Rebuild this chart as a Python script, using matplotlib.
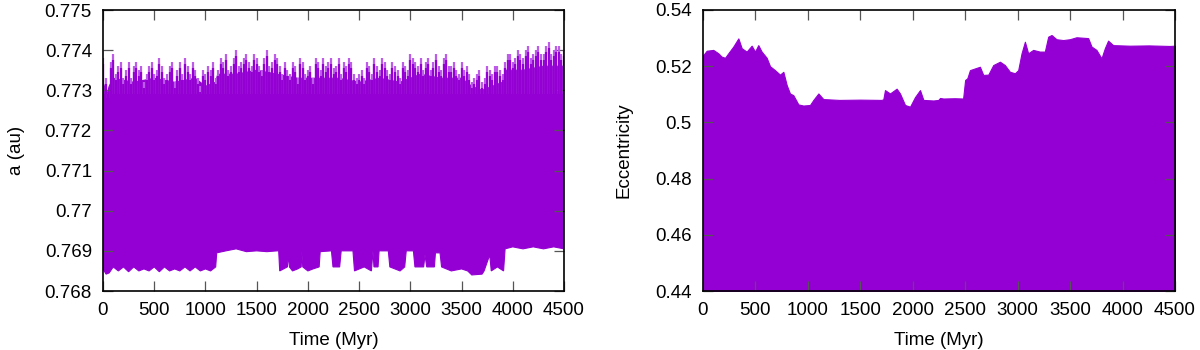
import numpy as np
import matplotlib
matplotlib.use("Agg")
import matplotlib.pyplot as plt

plt.rcParams['font.family'] = ['Liberation Sans', 'DejaVu Sans']

# ---------------- data ----------------
# semi-major axis: spike tops of the upper edge, every 50 Myr
a_upper_time = list(range(0, 4501, 50))
a_upper = [0.7738, 0.7728, 0.7739, 0.7736, 0.7733, 0.7737, 0.7736, 0.7735, 0.7732, 0.7736,
           0.7734, 0.7738, 0.7733, 0.7736, 0.7732, 0.7737, 0.7738, 0.7734, 0.7735, 0.7731,
           0.7734, 0.7735, 0.7733, 0.7738, 0.7739, 0.7736, 0.7740, 0.7737, 0.7739, 0.7736,
           0.7738, 0.7735, 0.7740, 0.7737, 0.7738, 0.7734, 0.7735, 0.7737, 0.7733, 0.7737,
           0.7735, 0.7733, 0.7737, 0.7738, 0.7737, 0.77355, 0.7738, 0.7737, 0.7738, 0.7734,
           0.7734, 0.7733, 0.7736, 0.7738, 0.7735, 0.7737, 0.7734, 0.7736, 0.7733, 0.7736,
           0.7739, 0.7737, 0.7738, 0.7737, 0.7735, 0.7739, 0.7735, 0.7739, 0.7736, 0.7735,
           0.7737, 0.7736, 0.7732, 0.7734, 0.7732, 0.7736, 0.7734, 0.7736, 0.7734, 0.7739,
           0.7737, 0.7740, 0.7738, 0.7741, 0.7739, 0.7741, 0.7739, 0.7742, 0.7740, 0.7741,
           0.7740]
# extra spike tops between the 50-Myr samples
a_mid_time = list(range(25, 4500, 50))
a_mid = [0.7733, 0.7737, 0.7734, 0.7737, 0.7735, 0.7733, 0.7737, 0.7736, 0.7734, 0.7737,
         0.7735, 0.7736, 0.7734, 0.7737, 0.7735, 0.7734, 0.7736, 0.7737, 0.7733, 0.7735,
         0.7736, 0.7737, 0.7735, 0.7737, 0.7735, 0.7738, 0.7736, 0.7738, 0.7737, 0.7739,
         0.7736, 0.7738, 0.7736, 0.7739, 0.7736, 0.7737, 0.7734, 0.7736, 0.7738, 0.7734,
         0.7736, 0.7738, 0.7735, 0.7736, 0.7738, 0.7736, 0.7734, 0.7736, 0.7737, 0.7733,
         0.7735, 0.7737, 0.7734, 0.7736, 0.7738, 0.7735, 0.7737, 0.7735, 0.7737, 0.7735,
         0.7738, 0.7736, 0.7735, 0.7738, 0.7737, 0.7736, 0.7738, 0.7736, 0.7737, 0.7734,
         0.7735, 0.7734, 0.7733, 0.7735, 0.7733, 0.7735, 0.7736, 0.7735, 0.7737, 0.7739,
         0.7738, 0.7739, 0.7740, 0.7738, 0.7740, 0.7739, 0.7741, 0.7739, 0.7741, 0.7739]
# dense (solid) top of the band
a_core_time = [0, 40, 60, 100, 300, 500, 700, 900, 1000, 1100, 1120, 1300, 1500, 1700,
               1900, 2100, 2300, 2500, 2700, 2900, 3100, 3300, 3500, 3600, 3700, 3800,
               3900, 3930, 4100, 4300, 4500]
a_core = [0.7732, 0.7729, 0.7731, 0.7733, 0.7732, 0.7733, 0.7732, 0.7733, 0.7731, 0.7732,
          0.7734, 0.7734, 0.7735, 0.7734, 0.7733, 0.7733, 0.7733, 0.7732, 0.7733, 0.7732,
          0.7734, 0.7733, 0.7733, 0.7731, 0.7730, 0.7731, 0.7732, 0.7735, 0.7735, 0.7736,
          0.7736]

# semi-major axis: lower envelope
a_lower_time = [0, 30, 60, 100, 150, 200, 250, 300, 350, 400, 450, 500, 550, 600, 650, 700,
                750, 800, 850, 900, 950, 1000, 1050, 1100, 1110, 1200, 1300, 1400, 1500,
                1600, 1700, 1715, 1725, 1800, 1810, 1820, 1850, 1900, 1935, 1940, 1950, 2000,
                2050, 2110, 2120, 2230, 2245, 2310, 2325, 2440, 2455, 2550, 2620, 2635, 2645,
                2685, 2695, 2785, 2800, 2900, 2945, 2960, 3030, 3045, 3130, 3143, 3160, 3235,
                3245, 3290, 3305, 3400, 3500, 3560, 3600, 3700, 3720, 3775, 3790, 3850, 3910,
                3925, 4000, 4100, 4200, 4300, 4400, 4500]
a_lower = [0.76855, 0.76842, 0.76845, 0.7686, 0.7685, 0.7686, 0.76848, 0.7686, 0.7685,
           0.76855, 0.7685, 0.7686, 0.76848, 0.7686, 0.7685, 0.76855, 0.7685, 0.7686, 0.7685,
           0.7686, 0.7685, 0.76855, 0.7685, 0.7686, 0.76895, 0.7690, 0.76905, 0.76898, 0.7690,
           0.76898, 0.7690, 0.7690, 0.7685, 0.7686, 0.7689, 0.7686, 0.7685, 0.76855, 0.7686,
           0.7690, 0.7686, 0.7685, 0.76855, 0.7686, 0.76898, 0.7690, 0.7686, 0.7686, 0.7690,
           0.7690, 0.7685, 0.7686, 0.7685, 0.7690, 0.7686, 0.7686, 0.7690, 0.7690, 0.7686,
           0.7685, 0.7686, 0.7690, 0.7690, 0.7686, 0.7686, 0.7689, 0.7686, 0.7686, 0.76895,
           0.76895, 0.7686, 0.7685, 0.76855, 0.7685, 0.7684, 0.76842, 0.7685, 0.7689, 0.7685,
           0.7686, 0.7685, 0.76905, 0.7691, 0.76905, 0.7691, 0.76905, 0.7691, 0.76905]

# eccentricity: upper envelope
ecc_time = [0, 35, 98, 146, 178, 210, 241, 289, 337, 369, 416, 464, 496, 527, 559, 607, 639,
            686, 734, 766, 798, 829, 861, 909, 957, 1020, 1052, 1100, 1147, 1300, 1500, 1700,
            1719, 1735, 1783, 1846, 1878, 1926, 1974, 2021, 2069, 2101, 2196, 2244, 2260,
            2292, 2400, 2480, 2499, 2520, 2545, 2592, 2640, 2672, 2720, 2767, 2831, 2878,
            2926, 2974, 3005, 3037, 3069, 3100, 3148, 3211, 3259, 3291, 3323, 3370, 3434,
            3497, 3561, 3672, 3704, 3751, 3799, 3831, 3862, 3910, 4069, 4250, 4450, 4500]
ecc_upper = [0.5238, 0.5255, 0.5258, 0.5246, 0.5234, 0.5230, 0.5246, 0.5270, 0.5299, 0.5264,
             0.5252, 0.5273, 0.5252, 0.5275, 0.5252, 0.5230, 0.5200, 0.5186, 0.5170, 0.5180,
             0.5133, 0.5103, 0.5097, 0.5064, 0.5060, 0.5062, 0.5080, 0.5103, 0.5083, 0.5080,
             0.5081, 0.5080, 0.5082, 0.5115, 0.5103, 0.5120, 0.5103, 0.5062, 0.5056, 0.5090,
             0.5115, 0.5080, 0.5078, 0.5080, 0.5087, 0.5085, 0.5086, 0.5085, 0.5151, 0.5157,
             0.5186, 0.5192, 0.5198, 0.5169, 0.5170, 0.5204, 0.5216, 0.5204, 0.5180, 0.5175,
             0.5186, 0.5246, 0.5287, 0.5246, 0.5258, 0.5252, 0.5252, 0.5305, 0.5311, 0.5296,
             0.5293, 0.5296, 0.5303, 0.5300, 0.5270, 0.5258, 0.5228, 0.5264, 0.5291, 0.5275,
             0.5273, 0.5274, 0.5272, 0.5273]
ecc_floor = 0.44

time_ticks = [0, 500, 1000, 1500, 2000, 2500, 3000, 3500, 4000, 4500]
a_ticks = [0.768, 0.769, 0.770, 0.771, 0.772, 0.773, 0.774, 0.775]
a_tick_labels = ['0.768', '0.769', '0.77', '0.771', '0.772', '0.773', '0.774', '0.775']
e_ticks = [0.44, 0.46, 0.48, 0.50, 0.52, 0.54]
e_tick_labels = ['0.44', '0.46', '0.48', '0.5', '0.52', '0.54']

color = '#9400D3'
light = '#bd5ce8'
FS = 13.5

fig = plt.figure(figsize=(12, 3.5), dpi=100)
H = 350.0
ax1 = fig.add_axes([103 / 1200, (H - 291) / H, 461 / 1200, 281 / H])
ax2 = fig.add_axes([703 / 1200, (H - 291) / H, 472 / 1200, 281 / H])

# left: solid band between lower envelope and dense top
poly_x = np.concatenate([a_core_time, a_lower_time[::-1]])
poly_y = np.concatenate([a_core, a_lower[::-1]])
ax1.fill(poly_x, poly_y, color=color, linewidth=0.8, edgecolor=color)
# thin spikes up to the recorded maxima
ax1.vlines(a_upper_time, 0.7729, a_upper, color=light, linewidth=1.6)
ax1.vlines(a_upper_time, 0.7729, np.array(a_upper) - 0.00015, color=color, linewidth=1.6)
ax1.vlines(a_mid_time, 0.7729, a_mid, color=light, linewidth=1.6)
ax1.vlines(a_mid_time, 0.7729, np.array(a_mid) - 0.00015, color=color, linewidth=1.6)
ax1.set_xlim(0, 4500)
ax1.set_ylim(0.768, 0.775)
ax1.set_yticks(a_ticks)
ax1.set_yticklabels(a_tick_labels)
ax1.set_ylabel('a (au)', fontsize=FS, labelpad=14)

# right: eccentricity filled down to the floor
ax2.fill_between(ecc_time, ecc_floor, ecc_upper, color=color, linewidth=0.8, edgecolor=color)
ax2.set_xlim(0, 4500)
ax2.set_ylim(0.44, 0.54)
ax2.set_yticks(e_ticks)
ax2.set_yticklabels(e_tick_labels)
ax2.set_ylabel('Eccentricity', fontsize=FS, labelpad=16)

for ax in (ax1, ax2):
    ax.set_xticks(time_ticks)
    ax.set_xlabel('Time (Myr)', fontsize=FS, labelpad=9)
    ax.tick_params(direction='in', length=7, width=0.9, color='#555555',
                   top=True, right=True, labelsize=FS, pad=8)
    for s in ax.spines.values():
        s.set_linewidth(1.2)
        s.set_color('black')
        s.set_zorder(5)

fig.savefig('out.png', dpi=100)
